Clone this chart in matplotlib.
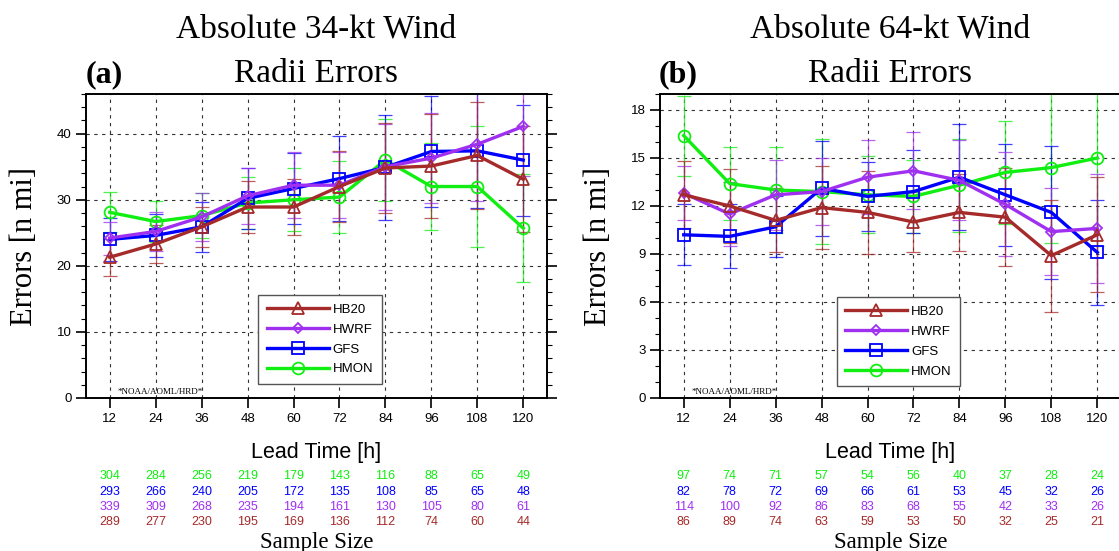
import numpy as np
import matplotlib
matplotlib.use('Agg')
import matplotlib.pyplot as plt
from matplotlib.transforms import blended_transform_factory
from matplotlib.ticker import MultipleLocator

SANS = 'Liberation Sans'
SERIF = 'Liberation Serif'

lead = [12, 24, 36, 48, 60, 72, 84, 96, 108, 120]
models = ['HB20', 'HWRF', 'GFS', 'HMON']
colors = {'HB20': '#A52A2A', 'HWRF': '#A030F0', 'GFS': '#0000FF', 'HMON': '#11EE11'}
markers = {'HB20': ('^', 8), 'HWRF': ('D', 5.5), 'GFS': ('s', 8), 'HMON': ('o', 8.5)}

# ---- (a) 34-kt wind radii errors [n mi] ----
a_hb20 = [21.3, 23.3, 25.9, 28.9, 28.9, 32.0, 34.8, 35.1, 36.7, 33.1]
a_hwrf = [24.2, 25.2, 27.4, 30.6, 32.2, 32.2, 35.0, 36.3, 38.4, 41.1]
a_gfs = [24.0, 24.6, 25.9, 30.2, 31.7, 33.2, 34.9, 37.3, 37.4, 36.0]
a_hmon = [28.1, 26.7, 27.6, 29.5, 30.0, 30.4, 36.0, 32.0, 32.0, 25.7]
# half-width of error bars
a_hb20_err = [2.8, 2.9, 3.0, 4.0, 4.2, 5.4, 6.8, 7.9, 8.1, 8.0]
a_hwrf_err = [2.5, 2.9, 3.6, 4.2, 5.0, 5.0, 6.5, 6.8, 8.6, 7.5]
a_gfs_err = [3.2, 3.3, 3.8, 4.6, 5.3, 6.4, 7.9, 8.4, 8.7, 8.4]
a_hmon_err = [3.0, 3.1, 3.4, 4.0, 4.8, 5.5, 6.2, 6.6, 9.2, 8.2]

# ---- (b) 64-kt wind radii errors [n mi] ----
b_hb20 = [12.7, 12.0, 11.1, 11.9, 11.6, 11.0, 11.6, 11.3, 8.9, 10.2]
b_hwrf = [12.8, 11.5, 12.7, 12.9, 13.8, 14.2, 13.6, 12.1, 10.4, 10.6]
b_gfs = [10.2, 10.1, 10.7, 13.1, 12.6, 12.9, 13.8, 12.7, 11.6, 9.1]
b_hmon = [16.4, 13.4, 13.0, 12.9, 12.7, 12.6, 13.3, 14.1, 14.4, 15.0]
b_hb20_err = [2.1, 2.3, 2.0, 2.6, 2.6, 1.9, 2.4, 3.05, 3.5, 3.6]
b_hwrf_err = [1.7, 2.0, 2.2, 2.1, 2.3, 2.4, 2.5, 3.25, 2.7, 3.4]
b_gfs_err = [1.9, 2.0, 1.9, 2.95, 2.15, 2.6, 3.3, 3.2, 4.15, 3.3]
b_hmon_err = [2.5, 2.3, 2.7, 3.3, 2.4, 2.3, 2.9, 3.2, 4.7, 5.5]

# ---- sample sizes ----
a_n_hmon = [304, 284, 256, 219, 179, 143, 116, 88, 65, 49]
a_n_gfs = [293, 266, 240, 205, 172, 135, 108, 85, 65, 48]
a_n_hwrf = [339, 309, 268, 235, 194, 161, 130, 105, 80, 61]
a_n_hb20 = [289, 277, 230, 195, 169, 136, 112, 74, 60, 44]
b_n_hmon = [97, 74, 71, 57, 54, 56, 40, 37, 28, 24]
b_n_gfs = [82, 78, 72, 69, 66, 61, 53, 45, 32, 26]
b_n_hwrf = [114, 100, 92, 86, 83, 68, 55, 42, 33, 26]
b_n_hb20 = [86, 89, 74, 63, 59, 53, 50, 32, 25, 21]

panels = [
    dict(rect=[86/1119, 1-398/551, 461/1119, 304/551], tag='(a)', kt='34',
         vals={'HB20': a_hb20, 'HWRF': a_hwrf, 'GFS': a_gfs, 'HMON': a_hmon},
         errs={'HB20': a_hb20_err, 'HWRF': a_hwrf_err, 'GFS': a_gfs_err, 'HMON': a_hmon_err},
         ns=[('HMON', a_n_hmon), ('GFS', a_n_gfs), ('HWRF', a_n_hwrf), ('HB20', a_n_hb20)],
         ylim=46, major=10, minor=2, leg=(0.373, 0.339)),
    dict(rect=[660/1119, 1-398/551, 461/1119, 304/551], tag='(b)', kt='64',
         vals={'HB20': b_hb20, 'HWRF': b_hwrf, 'GFS': b_gfs, 'HMON': b_hmon},
         errs={'HB20': b_hb20_err, 'HWRF': b_hwrf_err, 'GFS': b_gfs_err, 'HMON': b_hmon_err},
         ns=[('HMON', b_n_hmon), ('GFS', b_n_gfs), ('HWRF', b_n_hwrf), ('HB20', b_n_hb20)],
         ylim=19, major=3, minor=1, leg=(0.383, 0.332)),
]

fig = plt.figure(figsize=(11.19, 5.51), dpi=100)

def fy(px):
    # pixel row from top -> figure fraction
    return 1 - px / 551

for p in panels:
    ax = fig.add_axes(p['rect'])
    for m in ['HMON', 'GFS', 'HWRF', 'HB20']:
        c = colors[m]
        ax.errorbar(lead, p['vals'][m], yerr=p['errs'][m], fmt='none', ecolor=c,
                    elinewidth=0.9, capsize=4.7, capthick=0.9, alpha=0.75, zorder=2)
    handles = {}
    for m in ['HMON', 'GFS', 'HWRF', 'HB20']:
        c = colors[m]
        mk, ms = markers[m]
        h, = ax.plot(lead, p['vals'][m], color=c, lw=2.4, marker=mk, ms=ms,
                     mfc='none', mec=c, mew=1.3, label=m, zorder=3)
        handles[m] = h

    ax.set_xlim(5.8, 126.2)
    ax.set_ylim(0, p['ylim'])
    ax.set_xticks(lead)
    ax.yaxis.set_major_locator(MultipleLocator(p['major']))
    ax.yaxis.set_minor_locator(MultipleLocator(p['minor']))
    ax.grid(True, which='major', color='#333333', lw=0.8, linestyle=(0, (3, 4)))
    ax.tick_params(axis='both', which='major', direction='out', length=7, width=1.2,
                   labelsize=9.5, pad=3.5, right=True, labelright=False)
    ax.tick_params(axis='y', which='minor', direction='out', length=3.5, width=0.8,
                   right=True)
    for lab in ax.get_xticklabels() + ax.get_yticklabels():
        lab.set_fontfamily(SANS)
    for s in ax.spines.values():
        s.set_linewidth(1.4)
    ax.set_ylabel('Errors [n mi]', fontsize=22, family=SERIF, va='center')
    ax.yaxis.set_label_coords(-0.133, 0.5)

    leg = ax.legend([handles[m] for m in models], models, loc='upper left',
                    bbox_to_anchor=p['leg'], borderaxespad=0,
                    prop={'family': SANS, 'size': 9.5},
                    handlelength=4.7, handletextpad=0.3, labelspacing=0.58,
                    borderpad=0.65, fancybox=False, framealpha=1)
    leg.get_frame().set_edgecolor('#555555')
    leg.get_frame().set_linewidth(1.0)

    ax.text(0.069, 0.02, '*NOAA/AOML/HRD*', transform=ax.transAxes, fontsize=6.5,
            family=SERIF, va='center', ha='left')

    # titles
    pos = ax.get_position()
    xc = (pos.x0 + pos.x1) / 2
    fig.text(xc, fy(38), 'Absolute %s-kt Wind' % p['kt'], ha='center', va='baseline',
             fontsize=24, family=SERIF)
    fig.text(xc, fy(82), 'Radii Errors', ha='center', va='baseline',
             fontsize=24, family=SERIF)
    fig.text(pos.x0 + 18/1119, fy(82), p['tag'], ha='center', va='baseline',
             fontsize=23, family=SERIF, fontweight='bold')

    fig.text(xc, fy(458), 'Lead Time [h]', ha='center', va='baseline',
             fontsize=15.5, family=SANS)
    trans = blended_transform_factory(ax.transData, fig.transFigure)
    for row, (m, ns) in enumerate(p['ns']):
        ypix = 479.3 + row * 15.3
        for xv, n in zip(lead, ns):
            ax.text(xv, fy(ypix), str(n), transform=trans, ha='center', va='baseline',
                    fontsize=9, family=SANS, color=colors[m], clip_on=False)
    fig.text(xc, fy(548), 'Sample Size', ha='center', va='baseline',
             fontsize=16.5, family=SERIF)

fig.savefig('out.png', dpi=100)
